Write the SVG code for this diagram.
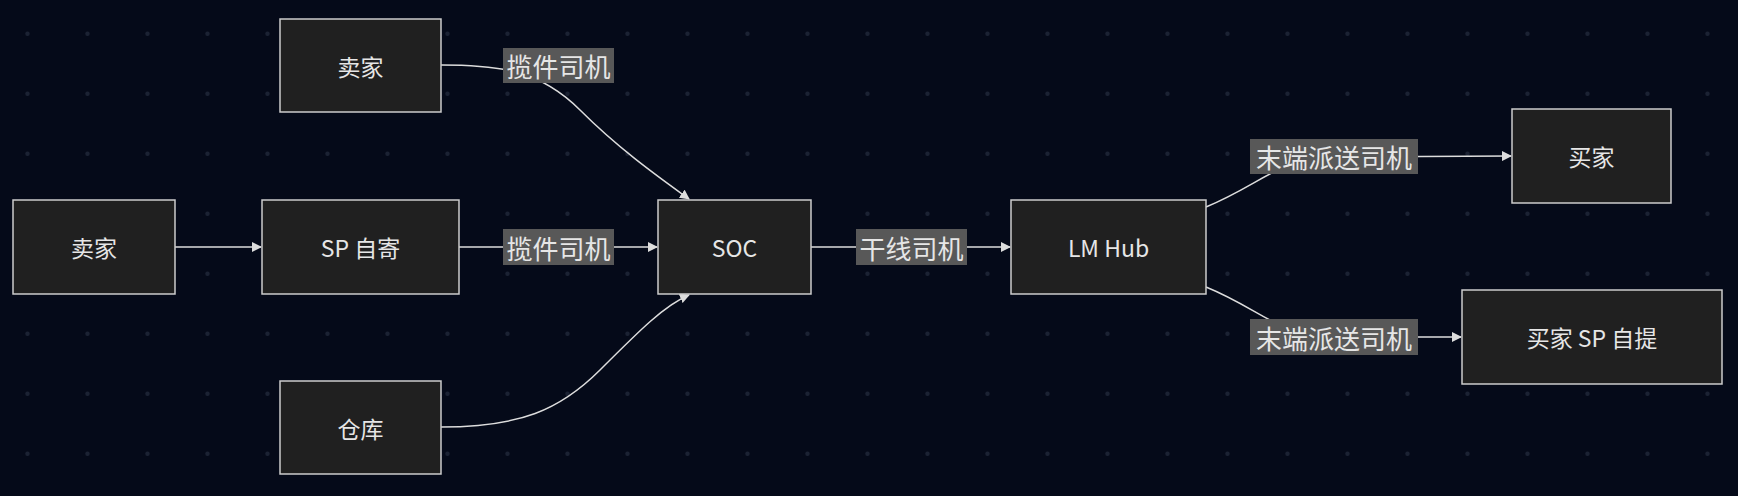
<svg xmlns="http://www.w3.org/2000/svg" width="1738" height="496" viewBox="0 0 1738 496">
<defs>
<pattern id="dots" x="0" y="0" width="60" height="60" patternUnits="userSpaceOnUse"><circle cx="27.5" cy="33.7" r="2.2" fill="#1b2233"/></pattern>
<marker id="arr" viewBox="0 0 10 10" refX="9" refY="5" markerWidth="10" markerHeight="10" markerUnits="userSpaceOnUse" orient="auto"><path d="M0,0 L10,5 L0,10 z" fill="#dddddd"/></marker>
<style>
.n rect{fill:#202020;stroke:#cccccc;stroke-width:1.5}
.n text{fill:#e6e6e6;font-family:"Noto Sans CJK SC","Noto Sans",sans-serif;font-size:23px;text-anchor:middle;dominant-baseline:central}
.e path{fill:none;stroke:#dddddd;stroke-width:1.5;marker-end:url(#arr)}
.l rect{fill:#585858}
.l text{fill:#e6e6e6;font-family:"Noto Sans CJK SC",sans-serif;font-size:26px;text-anchor:middle;dominant-baseline:central}
</style>
</defs>
<rect width="1738" height="496" fill="#050a19"/>
<rect width="1738" height="496" fill="url(#dots)"/>
<g id="edges" class="e">
<path d="M175,247 L261,247"/>
<path d="M441,65 C500,65 540,70 580,110 C620,150 660,178 689,199"/>
<path d="M441,427 C520,427 560,410 600,370 C640,330 665,305 689,295"/>
<path d="M459,247 L657,247"/>
<path d="M811,247 L1010,247"/>
<path d="M1206,207 C1260,185 1280,158 1330,157 L1511,156"/>
<path d="M1206,287 C1260,309 1280,336 1330,337 L1461,337"/>
</g>
<g id="labels" class="l">
<g><rect x="503" y="48" width="111" height="35"/><text x="558.5" y="65.5">揽件司机</text></g>
<g><rect x="503" y="229" width="111" height="36"/><text x="558.5" y="247">揽件司机</text></g>
<g><rect x="856" y="229" width="111" height="36"/><text x="911.5" y="247">干线司机</text></g>
<g><rect x="1250" y="139" width="168" height="35"/><text x="1334" y="156.5">末端派送司机</text></g>
<g><rect x="1250" y="319" width="168" height="36"/><text x="1334" y="337">末端派送司机</text></g>
</g>
<g id="seller1" class="n"><rect x="13" y="200" width="162" height="94"/><text x="94" y="247">卖家</text></g>
<g id="sp" class="n"><rect x="262" y="200" width="197" height="94"/><text x="360.5" y="247">SP 自寄</text></g>
<g id="seller2" class="n"><rect x="280" y="19" width="161" height="93"/><text x="360.5" y="65.5">卖家</text></g>
<g id="warehouse" class="n"><rect x="280" y="381" width="161" height="93"/><text x="360.5" y="427.5">仓库</text></g>
<g id="soc" class="n"><rect x="658" y="200" width="153" height="94"/><text x="734.5" y="247">SOC</text></g>
<g id="lmhub" class="n"><rect x="1011" y="200" width="195" height="94"/><text x="1108.5" y="247">LM Hub</text></g>
<g id="buyer" class="n"><rect x="1512" y="109" width="159" height="94"/><text x="1591.5" y="156">买家</text></g>
<g id="buyersp" class="n"><rect x="1462" y="290" width="260" height="94"/><text x="1592" y="337">买家 SP 自提</text></g>
</svg>
